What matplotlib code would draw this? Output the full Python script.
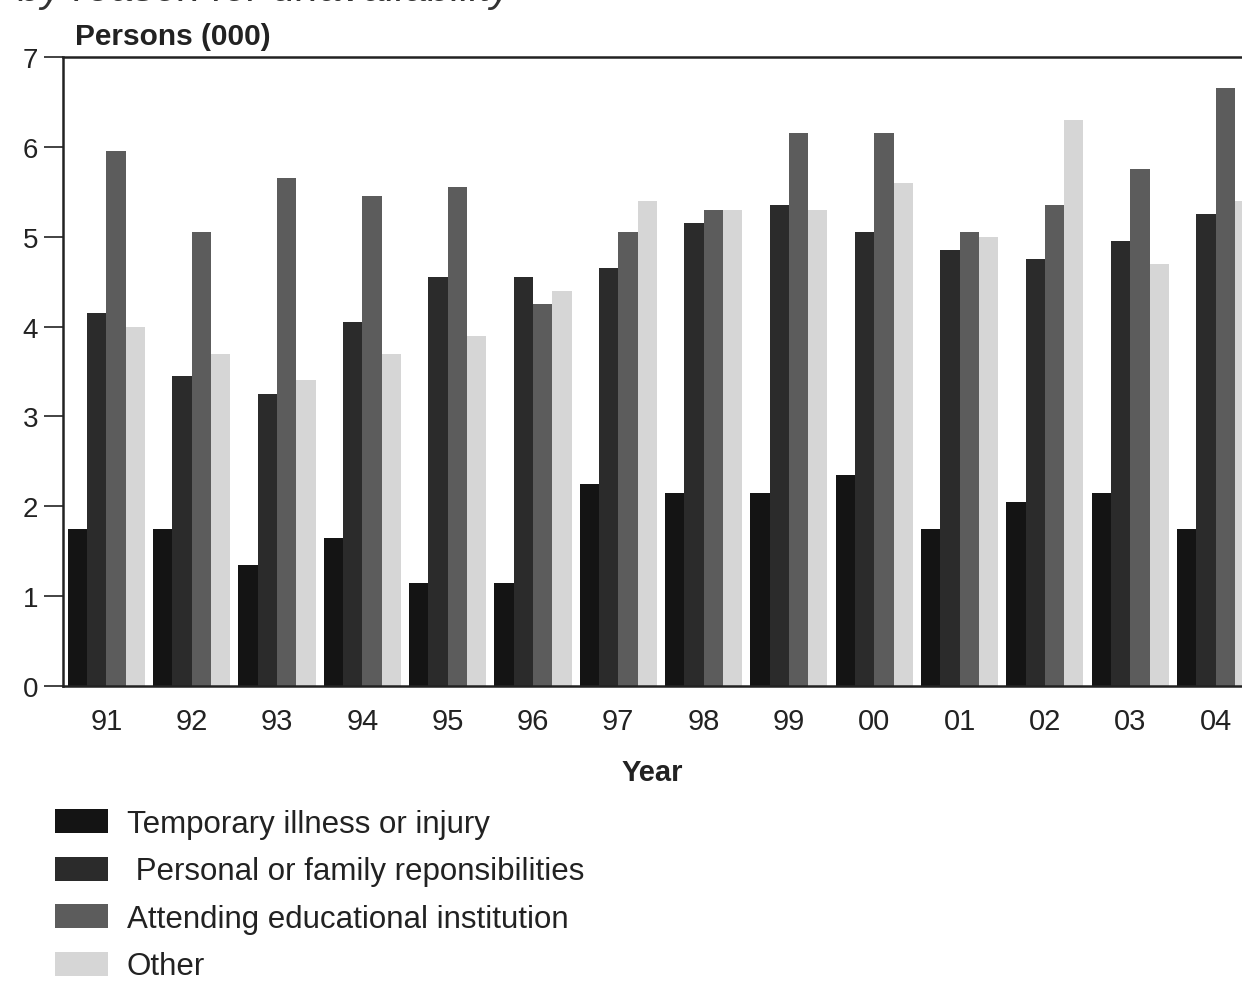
import matplotlib
matplotlib.use("Agg")
import matplotlib.pyplot as plt
import numpy as np

plt.rcParams['font.family'] = ['Liberation Sans', 'DejaVu Sans']

years = ["91", "92", "93", "94", "95", "96", "97", "98", "99", "00", "01", "02", "03", "04"]
illness = [1.75, 1.75, 1.35, 1.65, 1.15, 1.15, 2.25, 2.15, 2.15, 2.35, 1.75, 2.05, 2.15, 1.75]
family = [4.15, 3.45, 3.25, 4.05, 4.55, 4.55, 4.65, 5.15, 5.35, 5.05, 4.85, 4.75, 4.95, 5.25]
education = [5.95, 5.05, 5.65, 5.45, 5.55, 4.25, 5.05, 5.3, 6.15, 6.15, 5.05, 5.35, 5.75, 6.65]
other = [4.0, 3.7, 3.4, 3.7, 3.9, 4.4, 5.4, 5.3, 5.3, 5.6, 5.0, 6.3, 4.7, 5.4]

series = [
    ("Temporary illness or injury", illness, "#141414"),
    (" Personal or family reponsibilities", family, "#2b2b2b"),
    ("Attending educational institution", education, "#5c5c5c"),
    ("Other", other, "#d6d6d6"),
]

W, H = 1242, 987
fig = plt.figure(figsize=(W / 100, H / 100), dpi=100)
ax = fig.add_axes([63 / W, 1 - 687 / H, 1 - 63 / W, (687 - 58) / H])

x = np.arange(len(years))
width = 0.226
handles = []
for k, (label, vals, color) in enumerate(series):
    b = ax.bar(x + (k - 1.5) * width, vals, width, color=color, label=label,
               linewidth=0)
    handles.append(b)

ax.set_xlim(-0.508, 13.31)
ax.set_ylim(0, 7)
ax.set_yticks(range(0, 8))
ax.set_xticks(x)
ax.set_xticklabels(years)

ax.tick_params(axis='y', length=14, width=1.2, labelsize=20, pad=4, colors='#222222')
ax.tick_params(axis='x', length=0, labelsize=21, pad=15, colors='#222222')
for s in ['left', 'bottom', 'top']:
    ax.spines[s].set_color('#222222')
    ax.spines[s].set_linewidth(1.8)
ax.spines['right'].set_visible(False)

ax.set_xlabel("Year", fontsize=21, fontweight='bold', color='#222222', labelpad=17)
fig.text(75 / W, 1 - 37 / H, "Persons (000)", fontsize=21.5, fontweight='bold',
         color='#222222', va='center', ha='left')

# Chart title running off the top edge
fig.text(18 / W, 1 - 1 / H, "by reason for unavailability", fontsize=30,
         style='italic', color='#333333', va='baseline', ha='left')

fig.legend(handles=handles, loc='upper left',
           bbox_to_anchor=(55 / W, 1 - 810 / H), frameon=False,
           fontsize=22.5, handlelength=1.7, handleheight=0.8,
           handletextpad=0.6, labelspacing=0.56, labelcolor='#222222',
           borderaxespad=0, borderpad=0)

fig.savefig("out.png", dpi=100)
